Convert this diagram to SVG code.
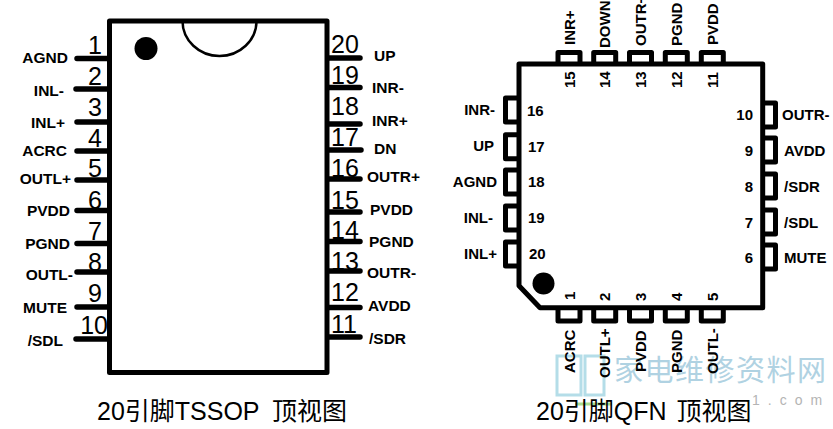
<svg xmlns="http://www.w3.org/2000/svg" width="833" height="429" viewBox="0 0 833 429">
<style>
text{font-family:"Liberation Sans","Noto Sans CJK SC",sans-serif;fill:#000}
.l{font-size:15.500px;font-weight:bold}
.n{font-size:25px}
.q{font-size:15px;font-weight:bold}
.c{font-size:25px}
.e{text-anchor:end}
.b{fill:none;stroke:#000;stroke-width:5;stroke-linejoin:round}
.p{stroke:#000;stroke-width:5.500;stroke-linecap:round}
.w{font-size:29px;letter-spacing:1.500px;fill:#b0d2e2;font-family:"Noto Sans CJK SC",sans-serif}
.u{font-size:14px;letter-spacing:8px;fill:#b4b4b4}
</style>
<rect width="833" height="429" fill="#fff"/>
<g id="tssop-body"><rect class="b" x="109.500" y="21" width="217.500" height="351.500"/>
<path d="M182.500 21A37 35 0 0 0 256.500 21" fill="none" stroke="#000" stroke-width="2.500"/>
<circle cx="146" cy="48.500" r="11.500" fill="#000"/></g>
<g id="tssop-connectors">
<path class="p" d="M77 58.500H108M76 89H108M77 122H108M77 151H108M77 180H108M77 210.500H108M77 243.500H108M77 272H108M77 307H108M76 339H108"/>
<path class="p" d="M329 58H360M329 87.500H360M329 124H360M329 150H361M329 179H360M329 212H360M329 241.500H360M329 271H360M329 307.500H360M329 337H360"/>
</g>
<g id="tssop-left">
<text class="n e" x="102" y="54">1</text><text class="l e" x="68" y="63">AGND</text>
<text class="n e" x="102" y="85">2</text><text class="l e" x="64" y="96">INL-</text>
<text class="n e" x="102" y="116">3</text><text class="l e" x="65" y="128">INL+</text>
<text class="n e" x="102" y="147">4</text><text class="l e" x="67" y="156">ACRC</text>
<text class="n e" x="102" y="177">5</text><text class="l e" x="71" y="184">OUTL+</text>
<text class="n e" x="102" y="209">6</text><text class="l e" x="70" y="216">PVDD</text>
<text class="n e" x="102" y="240">7</text><text class="l e" x="70" y="249">PGND</text>
<text class="n e" x="102" y="271">8</text><text class="l e" x="73" y="280">OUTL-</text>
<text class="n e" x="102" y="302">9</text><text class="l e" x="67" y="313">MUTE</text>
<text class="n e" x="108" y="334">10</text><text class="l e" x="63" y="346">/SDL</text>
</g>
<g id="tssop-right">
<text class="n" x="331" y="53">20</text><text class="l" x="374" y="61">UP</text>
<text class="n" x="331" y="84">19</text><text class="l" x="372" y="93">INR-</text>
<text class="n" x="331" y="115">18</text><text class="l" x="372" y="126">INR+</text>
<text class="n" x="331" y="146">17</text><text class="l" x="374" y="154">DN</text>
<text class="n" x="331" y="177">16</text><text class="l" x="367" y="182">OUTR+</text>
<text class="n" x="331" y="209">15</text><text class="l" x="370" y="215">PVDD</text>
<text class="n" x="331" y="239">14</text><text class="l" x="369" y="247">PGND</text>
<text class="n" x="331" y="270">13</text><text class="l" x="367" y="278">OUTR-</text>
<text class="n" x="331" y="301">12</text><text class="l" x="368" y="311">AVDD</text>
<text class="n" x="331" y="333">11</text><text class="l" x="369" y="344">/SDR</text>
</g>
<g id="watermark">
<path d="M557 356H581V395H557ZM585 356H604V395H585Z" fill="none" stroke="#b4dde8" stroke-width="3"/>
<path d="M575 404H612" stroke="#a8dc90" stroke-width="3"/>
<text class="w" x="614" y="381">家电维修资料网</text>
<text class="u" x="752" y="405">1.com</text>
</g>
<text class="c" x="97" y="420" id="tssop-title" word-spacing="6">20引脚TSSOP 顶视图</text>
<g id="qfn-body"><path class="b" d="M519 64H762.700V307.700H540L519 285.700Z"/>
<circle cx="543.500" cy="283.500" r="11" fill="#000"/></g>
<g id="qfn-connectors">
<path class="b" d="M558 64V52.500H580V64M593.700 64V52.500H615.700V64M629.500 64V52.500H651.500V64M665.300 64V52.500H687.300V64M701.300 64V52.500H723.300V64"/>
<path class="b" d="M558 308V321H580V308M593.700 308V321H615.700V308M629.500 308V321H651.500V308M665.300 308V321H687.300V308M701.300 308V321H723.300V308"/>
<path class="b" d="M519 98H505.500V122H519M519 134.700H505.500V158.700H519M519 170H505.500V194H519M519 206H505.500V230H519M519 242H505.500V266H519"/>
<path class="b" d="M763 103H775.500V127H763M763 138H775.500V162H763M763 174H775.500V198H763M763 210H775.500V234H763M763 245H775.500V269H763"/>
</g>
<g id="qfn-top">
<text class="q" transform="translate(574.500 45) rotate(-90)">INR+</text><text class="q" transform="translate(574.500 88) rotate(-90)">15</text>
<text class="q" transform="translate(610 48) rotate(-90)">DOWN</text><text class="q" transform="translate(610 88) rotate(-90)">14</text>
<text class="q" transform="translate(646 46) rotate(-90)">OUTR+</text><text class="q" transform="translate(646 88) rotate(-90)">13</text>
<text class="q" transform="translate(681.500 46) rotate(-90)">PGND</text><text class="q" transform="translate(681.500 88) rotate(-90)">12</text>
<text class="q" transform="translate(717.500 45) rotate(-90)">PVDD</text><text class="q" transform="translate(717.500 88) rotate(-90)">11</text>
</g>
<g id="qfn-bottom">
<text class="q" transform="translate(574.500 373) rotate(-90)">ACRC</text><text class="q" transform="translate(574.500 300) rotate(-90)">1</text>
<text class="q" transform="translate(610 378) rotate(-90)">OUTL+</text><text class="q" transform="translate(610 301) rotate(-90)">2</text>
<text class="q" transform="translate(646 372) rotate(-90)">PVDD</text><text class="q" transform="translate(646 301) rotate(-90)">3</text>
<text class="q" transform="translate(681.500 373) rotate(-90)">PGND</text><text class="q" transform="translate(681.500 301) rotate(-90)">4</text>
<text class="q" transform="translate(717.500 374) rotate(-90)">OUTL-</text><text class="q" transform="translate(717.500 301) rotate(-90)">5</text>
</g>
<g id="qfn-left">
<text class="q e" x="495" y="115">INR-</text><text class="q" x="527" y="116">16</text>
<text class="q e" x="494" y="151">UP</text><text class="q" x="528" y="152">17</text>
<text class="q e" x="497" y="187">AGND</text><text class="q" x="528" y="187">18</text>
<text class="q e" x="493" y="223">INL-</text><text class="q" x="528" y="223">19</text>
<text class="q e" x="497" y="259">INL+</text><text class="q" x="529" y="259">20</text>
</g>
<g id="qfn-right">
<text class="q e" x="753" y="120">10</text><text class="q" x="782" y="120">OUTR-</text>
<text class="q e" x="753" y="156">9</text><text class="q" x="784" y="156">AVDD</text>
<text class="q e" x="753" y="192">8</text><text class="q" x="784" y="192">/SDR</text>
<text class="q e" x="753" y="228">7</text><text class="q" x="784" y="228">/SDL</text>
<text class="q e" x="753" y="263">6</text><text class="q" x="784" y="263">MUTE</text>
</g>
<text class="c" x="536" y="420" id="qfn-title" word-spacing="3">20引脚QFN 顶视图</text>
</svg>
